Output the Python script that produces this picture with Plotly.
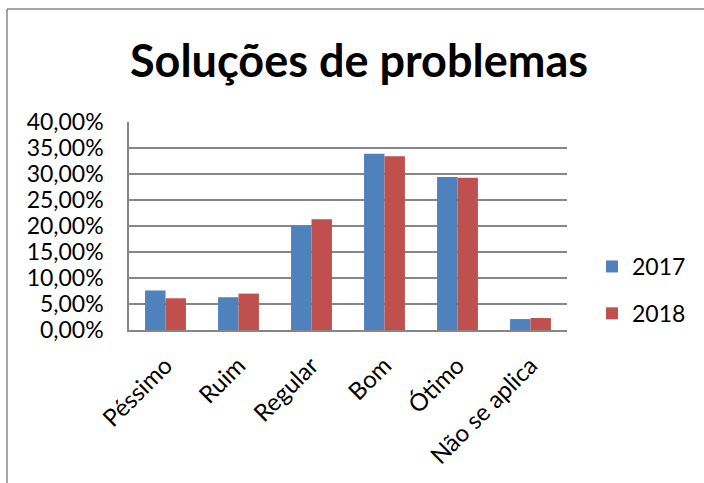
import plotly.graph_objects as go

categories = ["Péssimo", "Ruim", "Regular", "Bom", "Ótimo", "Não se aplica"]
values_2017 = [7.6, 6.3, 20.1, 33.9, 29.4, 2.1]
values_2018 = [6.1, 7.0, 21.3, 33.4, 29.3, 2.3]
tick_vals = [0, 5, 10, 15, 20, 25, 30, 35, 40]
tick_labels = ["0,00%", "5,00%", "10,00%", "15,00%", "20,00%", "25,00%", "30,00%", "35,00%", "40,00%"]

FONT = "Lato, Carlito, Calibri, sans-serif"
W, H = 704, 483
L, R, T, B = 129, 137, 122, 153
pw, ph = W - L - R, H - T - B

fig = go.Figure()
fig.add_trace(go.Bar(x=categories, y=values_2017, name="2017", marker_color="#4F81BD",
                     marker_line_width=0, legendgroup="a"))
fig.add_trace(go.Bar(x=categories, y=values_2018, name="2018", marker_color="#C0504D",
                     marker_line_width=0, legendgroup="b"))

fig.update_layout(
    width=W, height=H,
    margin=dict(l=L, r=R, t=T, b=B, autoexpand=False),
    paper_bgcolor="white", plot_bgcolor="white",
    barmode="group", bargap=0.44, bargroupgap=0,
    title=dict(text="<b>Soluções de problemas</b>", x=359 / W, xanchor="center",
               y=1 - 61 / H, yanchor="middle",
               font=dict(family=FONT, size=45, color="black")),
    font=dict(family=FONT, color="black"),
    legend=dict(x=(592 - L) / pw, y=1 - (290 - T) / ph, xanchor="left", yanchor="middle",
                font=dict(family=FONT, size=23, color="black"), tracegroupgap=14,
                bgcolor="rgba(0,0,0,0)"),
    xaxis=dict(tickangle=-45, tickfont=dict(family=FONT, size=24, color="black"),
               ticklabelstandoff=10,
               showline=True, linecolor="#868686", linewidth=2, ticks="", showgrid=False),
    yaxis=dict(range=[0, 40], tickvals=tick_vals, ticktext=tick_labels,
               tickfont=dict(family=FONT, size=23, color="black"),
               ticklabelstandoff=19,
               showgrid=True, gridcolor="#868686", gridwidth=1.5,
               showline=True, linecolor="#868686", linewidth=1.5,
               ticks="", ticklen=0, zeroline=False),
    shapes=[
        dict(type="line", xref="paper", yref="paper",
             x0=(7 - L) / pw, x1=(W + 5 - L) / pw, y0=1 + (T - 9) / ph, y1=1 + (T - 9) / ph,
             line=dict(color="#888888", width=1.5)),
        dict(type="line", xref="paper", yref="paper",
             x0=(7 - L) / pw, x1=(7 - L) / pw, y0=1 + (T - 9) / ph, y1=-(B + 5) / ph,
             line=dict(color="#888888", width=1.5)),
    ],
)

fig.write_html("out.html", config={"displayModeBar": False},
               post_script="document.body.style.margin='0';")
